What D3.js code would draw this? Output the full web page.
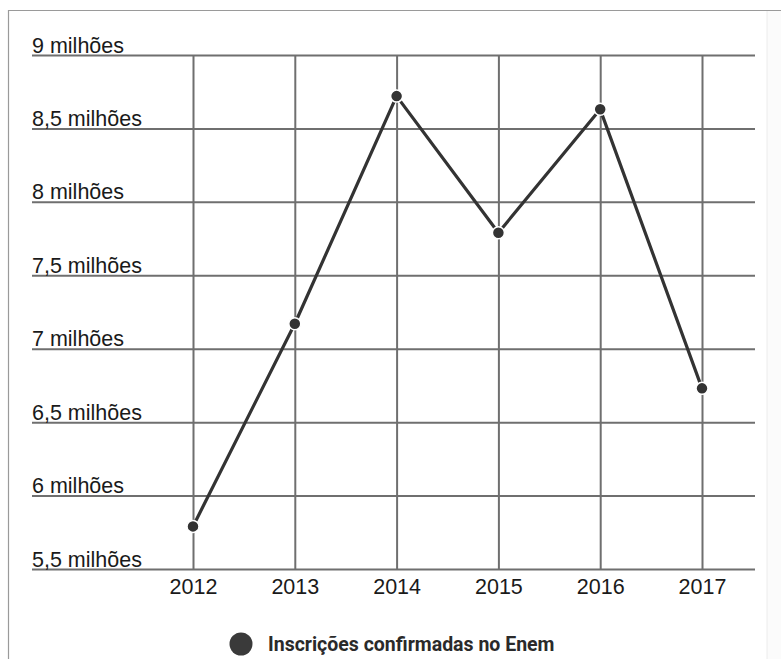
<!DOCTYPE html>
<html>
<head>
<meta charset="utf-8">
<script src="https://cdn.jsdelivr.net/npm/d3@7"></script>
<style>
  html, body { margin: 0; padding: 0; background: #fff; }
  svg { display: block; }
</style>
</head>
<body>
<svg id="chart" width="781" height="659"></svg>
<script>
// Inscrições confirmadas no Enem, em milhões
const years = [2012, 2013, 2014, 2015, 2016, 2017];
const inscricoes = [5.79, 7.17, 8.72, 7.79, 8.63, 6.73];
const yTicks = [5.5, 6, 6.5, 7, 7.5, 8, 8.5, 9];
const yTickLabels = ["5,5 milhões", "6 milhões", "6,5 milhões", "7 milhões",
                     "7,5 milhões", "8 milhões", "8,5 milhões", "9 milhões"];
const legendLabel = "Inscrições confirmadas no Enem";

const svg = d3.select("#chart");
const W = 781, H = 659;

const plot = { left: 32, right: 755, top: 55, bottom: 569 };

const x = d3.scalePoint()
  .domain(years)
  .range([193, 702]);

const y = d3.scaleLinear()
  .domain([5.5, 9])
  .range([plot.bottom, plot.top]);

// outer frame (top and left edges)
svg.append("path")
  .attr("d", `M8.5,${H} V10.5 H${W}`)
  .attr("fill", "none")
  .attr("stroke", "#9a9a9a")
  .attr("stroke-width", 1.2);

// faint right edge of the panel
svg.append("rect")
  .attr("x", 767).attr("y", 11)
  .attr("width", W - 767).attr("height", H - 11)
  .attr("fill", "#fbfbfb");
svg.append("line")
  .attr("x1", 767).attr("x2", 767)
  .attr("y1", 11).attr("y2", H)
  .attr("stroke", "#ececec");

const gridColor = "#6f6f6f";
const labelFont = "'Liberation Sans', Arial, sans-serif";

// horizontal gridlines and their labels, from the y axis generator
const yAxis = d3.axisLeft(y)
  .tickValues(yTicks)
  .tickSize(-(plot.right - plot.left))
  .tickFormat((d, i) => yTickLabels[i]);

const gy = svg.append("g")
  .attr("transform", `translate(${plot.left},0)`)
  .call(yAxis);
gy.select(".domain").remove();
gy.selectAll(".tick line")
  .attr("stroke", gridColor)
  .attr("stroke-width", 2);
gy.selectAll(".tick text")
  .attr("x", 0)
  .attr("dy", 0)
  .attr("y", -3)
  .attr("text-anchor", "start")
  .attr("fill", "#1a1a1a")
  .style("font-family", labelFont)
  .style("font-size", "21.5px");

// vertical gridlines and year labels
const xAxis = d3.axisBottom(x)
  .tickSize(-(plot.bottom - plot.top))
  .tickFormat(d3.format("d"));

const gx = svg.append("g")
  .attr("transform", `translate(0,${plot.bottom})`)
  .call(xAxis);
gx.select(".domain").remove();
gx.selectAll(".tick line")
  .attr("stroke", gridColor)
  .attr("stroke-width", 2);
gx.selectAll(".tick text")
  .attr("y", 0)
  .attr("dy", 25)
  .attr("fill", "#1a1a1a")
  .style("font-family", labelFont)
  .style("font-size", "21.5px");

// series line
const line = d3.line()
  .x((d, i) => x(years[i]))
  .y(d => y(d));

svg.append("path")
  .datum(inscricoes)
  .attr("d", line)
  .attr("fill", "none")
  .attr("stroke", "#333")
  .attr("stroke-width", 3.2)
  .attr("stroke-linejoin", "round");

// data points
svg.append("g")
  .selectAll("circle")
  .data(inscricoes)
  .join("circle")
  .attr("cx", (d, i) => x(years[i]))
  .attr("cy", d => y(d))
  .attr("r", 6)
  .attr("fill", "#333")
  .attr("stroke", "#fff")
  .attr("stroke-width", 1.5);

// legend
const legend = svg.append("g").attr("transform", "translate(241,644)");
legend.append("circle")
  .attr("r", 11.5)
  .attr("fill", "#3a3a3a");
legend.append("text")
  .attr("x", 27)
  .attr("y", 7)
  .attr("fill", "#2a2a2a")
  .style("font-family", "Roboto, 'Liberation Sans', Arial, sans-serif")
  .style("font-weight", "bold")
  .style("font-size", "19.5px")
  .text(legendLabel);
</script>
</body>
</html>
